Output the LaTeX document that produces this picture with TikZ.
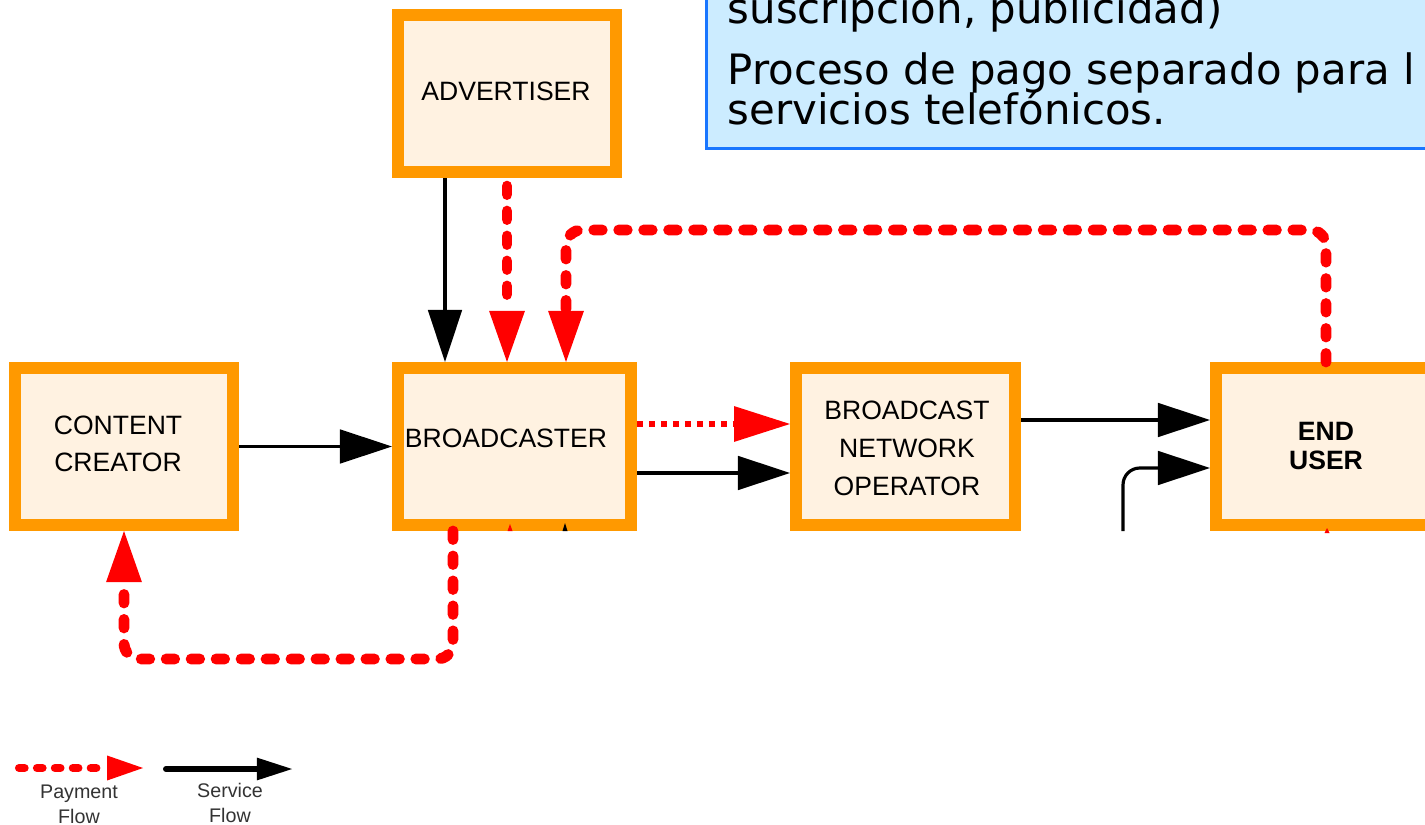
\documentclass[tikz,border=0pt]{standalone}
\usepackage{fontspec}
\setmainfont{Liberation Sans}
\newfontfamily\verd{DejaVu Sans}
\usetikzlibrary{arrows.meta,calc}
\definecolor{boxorange}{RGB}{255,153,0}
\definecolor{boxfill}{RGB}{255,242,225}
\definecolor{notefill}{RGB}{204,236,255}
\definecolor{noteline}{RGB}{25,118,255}
\definecolor{payred}{RGB}{255,0,0}
\begin{document}
\begin{tikzpicture}[x=0.01cm,y=-0.01cm,
  actor/.style={draw=boxorange, fill=boxfill, line width=3.41pt, inner sep=0pt, minimum height=1.57cm},
  lbl/.style={font=\fontsize{7.55pt}{10.5pt}\selectfont, align=center, inner sep=0pt},
  svc/.style={draw=black, line width=0.9pt, -{Triangle[length=14.8pt,width=9.8pt,line width=0pt]}},
  pay/.style={draw=payred, line width=3.1pt, line cap=round, dash pattern=on 2.4pt off 4.7pt, rounded corners=4.5pt, -{Triangle[length=14.5pt,width=10.2pt,line width=0pt]}},
  paydot/.style={draw=payred, line width=1.7pt, dash pattern=on 1.7pt off 1.7pt, -{Triangle[length=15.9pt,width=10.2pt,line width=0pt]}},
  notetxt/.style={anchor=base west, inner sep=0pt, font=\verd\fontsize{11.9pt}{14pt}\selectfont},
  legpay/.style={draw=payred, line width=2.3pt, line cap=round, dash pattern=on 1.6pt off 3.5pt, -{Triangle[length=10.2pt,width=7.1pt,line width=0pt]}},
  legsvc/.style={draw=black, line width=1.7pt, line cap=round, -{Triangle[length=10pt,width=6.5pt,line width=0pt]}},
  leg/.style={font=\fontsize{5.6pt}{7.2pt}\selectfont, align=center, inner sep=0pt, text=black!80},
  ]
\useasboundingbox (0,0) rectangle (1425,825);
\clip (0,0) rectangle (1425,825);

% note box
\node[draw=noteline, fill=notefill, line width=0.8pt, anchor=north west, minimum width=7.6cm, minimum height=1.77cm, inner sep=0pt] (note) at (705,-30) {};
\node[notetxt] (n1) at (727,24) {suscripción, publicidad)};
\node[notetxt] (n2) at (727,85) {Proceso de pago separado para l};
\node[notetxt] (n3) at (727,125) {servicios telefónicos.};

% actors
\node[actor, minimum width=2.18cm] (adv) at (507,93.5) {};
\node[actor, minimum width=2.18cm] (cc) at (124,446.5) {};
\node[actor, minimum width=2.33cm] (bc) at (514.5,446.5) {};
\node[actor, minimum width=2.19cm] (bno) at (905.5,446.5) {};
\node[actor, minimum width=2.20cm] (eu) at (1326,446.5) {};

\node[lbl] (advT) at (506,91) {ADVERTISER};
\node[lbl] (ccT) at (118,443.5) {CONTENT\\CREATOR};
\node[lbl] (bcT) at (506,438) {BROADCASTER};
\node[lbl, font=\fontsize{7.55pt}{10.8pt}\selectfont] (bnoT) at (907,448) {BROADCAST\\NETWORK\\OPERATOR};
\node[lbl, font=\bfseries\fontsize{7.55pt}{8pt}\selectfont] (euT) at (1326,446) {END\\USER};

% helper coordinates
\coordinate (xA) at (445,0);
\coordinate (xB) at (507,0);
\coordinate (top) at (566,230);
\coordinate (bot) at (453,659);
\coordinate (yR) at (0,424);
\coordinate (yS) at (0,473);
\coordinate (yE) at (0,420);
\coordinate (yC) at (0,468);
\coordinate (cEU) at (1123,531);

% connectors
\draw[svc] (adv.south -| xA) -- (bc.north -| xA);
\draw[pay, shorten <=2.3pt] (adv.south -| xB) -- (bc.north -| xB);
\draw[pay] (eu.north) |- (top) -- (bc.north -| top);
\draw[pay] (bc.south -| bot) |- (cc.south |- bot) -- (cc.south);
\draw[svc] (cc.east) -- (bc.west);
\draw[paydot] (bc.east |- yR) -- (bno.west |- yR);
\draw[svc] (bc.east |- yS) -- (bno.west |- yS);
\draw[svc] (bno.east |- yE) -- (eu.west |- yE);
\draw[svc, rounded corners=4.8pt] (cEU) |- (eu.west |- yC);

% tips peeking from below
\fill[payred] (507.5,531) -- (510,524) -- (512.5,531) -- cycle;
\fill[black] (562.5,531) -- (565,523) -- (567.5,531) -- cycle;
\fill[payred] (1324.5,533) -- (1327,528) -- (1329.5,533) -- cycle;

% legend
\coordinate (lp1) at (19,768);
\coordinate (lp2) at (143,768);
\coordinate (ls1) at (166,769);
\coordinate (ls2) at (292,769);
\draw[legpay] (lp1) -- (lp2);
\draw[legsvc] (ls1) -- (ls2);
\node[leg] (lpT) at (79,804.5) {Payment\\Flow};
\node[leg] (lsT) at (230,803) {Service\\Flow};
\end{tikzpicture}
\end{document}
